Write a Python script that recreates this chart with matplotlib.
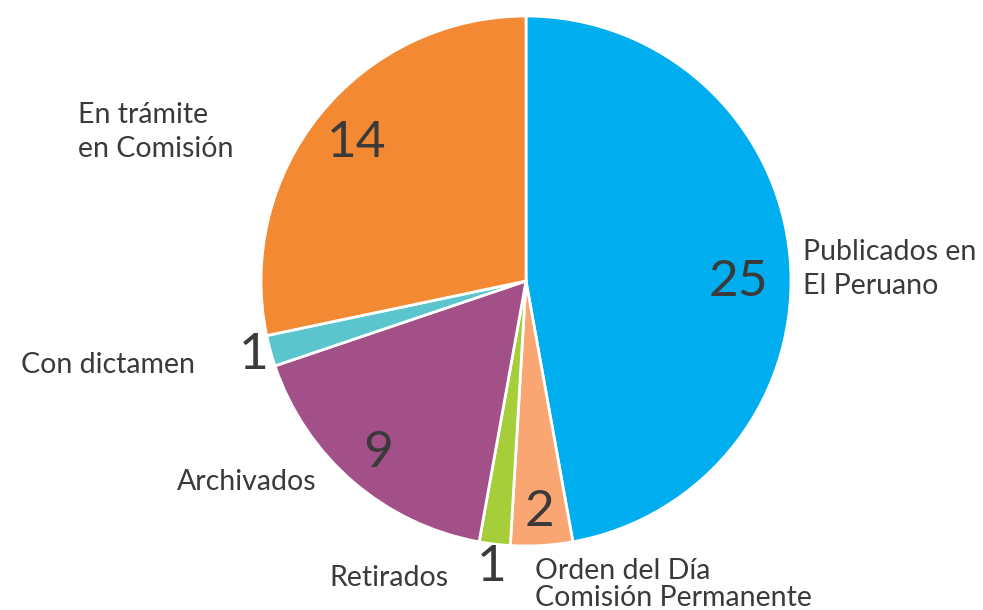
import numpy as np
import matplotlib.pyplot as plt

categories = ["Publicados en\nEl Peruano", "Orden del Día\nComisión Permanente", "Retirados",
              "Archivados", "Con dictamen", "En trámite\nen Comisión"]
# slice sizes as drawn in the picture, and the numbers printed on them
values = [25, 2, 1, 9, 1, 15]
value_labels = ["25", "2", "1", "9", "1", "14"]
colors = ["#00AEEF", "#F9A672", "#A5CE3A", "#A35088", "#5BC5CE", "#F38A33"]

# value label placement: radius (pie radius = 1) and angle shift from the wedge middle
value_r = [0.80, 0.875, 1.085, 0.855, 1.064, 0.825]
value_shift = [-5.4, 0, 0, 0, 0, 0]
# category label placement (data coords) and alignment
label_xy = [(1.045, 0.045), (0.034, -1.045), (-0.291, -1.151), (-0.792, -0.789), (-1.249, -0.347), (-1.69, 0.562)]
label_ha = ["left", "left", "right", "right", "right", "left"]
label_va = ["center", "top", "baseline", "baseline", "baseline", "center"]
label_ls = [1.36, 1.07, 1.36, 1.36, 1.36, 1.36]

plt.rcParams['font.family'] = ['Lato', 'DejaVu Sans']
text_color = "#3a3a3a"

fig = plt.figure(figsize=(9.83, 6.10), dpi=100)
W, H = 983, 610
cx, cy, r = 526, 281, 265
ax = fig.add_axes([(cx - r) / W, (H - cy - r) / H, 2 * r / W, 2 * r / H])

wedges, _ = ax.pie(values, colors=colors, startangle=90, counterclock=False,
                   radius=1, wedgeprops=dict(edgecolor="white", linewidth=2))

for w, lab, rr, sh in zip(wedges, value_labels, value_r, value_shift):
    ang = np.deg2rad((w.theta1 + w.theta2) / 2 + sh)
    ax.text(rr * np.cos(ang), rr * np.sin(ang), lab, ha="center", va="center",
            fontsize=37, color=text_color)

for lab, (x, y), ha, va, ls in zip(categories, label_xy, label_ha, label_va, label_ls):
    ax.text(x, y, lab, ha=ha, va=va, fontsize=20.5, color=text_color,
            linespacing=ls, clip_on=False)

ax.set_xlim(-1, 1)
ax.set_ylim(-1, 1)
ax.set_aspect("equal")
ax.axis("off")

fig.savefig("out.png", dpi=100)
